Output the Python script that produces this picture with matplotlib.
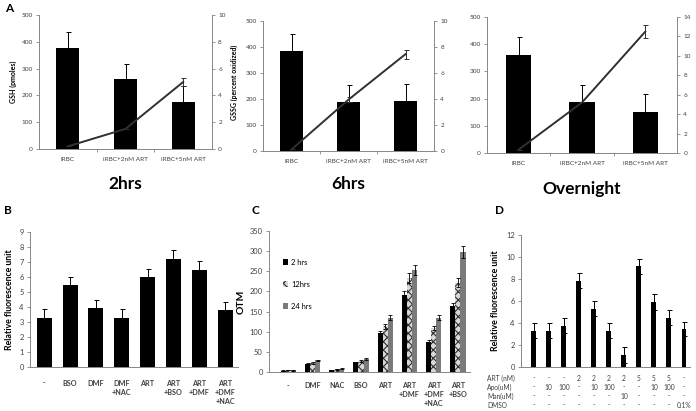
import matplotlib
matplotlib.use("Agg")
import matplotlib.pyplot as plt
import numpy as np

plt.rcParams['font.family'] = ['Lato', 'DejaVu Sans']
plt.rcParams['hatch.linewidth'] = 0.8

W, H = 696, 411

# ---- panel A data ----
a_cats = ['iRBC', 'iRBC+2nM ART', 'iRBC+5nM ART']
a_titles = ['2hrs', '6hrs', 'Overnight']
a_gsh = [[375, 260, 175], [385, 187, 194], [362, 186, 150]]
a_gsh_err = [[60, 58, 60], [66, 68, 65], [63, 65, 67]]
a_gssg = [[0.2, 1.5, 5.0], [0.12, 3.95, 7.45], [0.35, 5.2, 12.5]]
a_gssg_err = [[0, 0, 0.3], [0, 0.2, 0.35], [0, 0, 0.65]]
a_right_max = [10, 10, 14]

# ---- panel B data ----
b_cats = ['-', 'BSO', 'DMF', 'DMF\n+NAC', 'ART', 'ART\n+BSO', 'ART\n+DMF', 'ART\n+DMF\n+NAC']
b_vals = [3.25, 5.45, 3.95, 3.3, 6.0, 7.2, 6.5, 3.8]
b_err = [0.6, 0.55, 0.5, 0.6, 0.55, 0.6, 0.55, 0.55]

# ---- panel C data ----
c_cats = ['-', 'DMF', 'NAC', 'BSO', 'ART', 'ART\n+DMF', 'ART\n+DMF\n+NAC', 'ART\n+BSO']
c_series = ['2 hrs', '12hrs', '24 hrs']
c_2h = [3, 20, 4, 24, 97, 192, 75, 163]
c_12h = [5, 23, 7, 27, 113, 233, 110, 222]
c_24h = [4, 29, 8, 33, 135, 253, 135, 297]
c_2h_err = [1, 2, 1, 2, 6, 10, 4, 8]
c_12h_err = [1, 2, 1, 2, 7, 12, 5, 12]
c_24h_err = [1, 2, 1, 2, 7, 12, 7, 15]

# ---- panel D data ----
d_vals = [3.3, 3.3, 3.75, 7.85, 5.3, 3.3, 1.1, 9.15, 5.9, 4.5, 3.45]
d_err = [0.7, 0.7, 0.7, 0.7, 0.7, 0.7, 0.7, 0.7, 0.7, 0.7, 0.65]
d_rows = ['ART (nM)', 'Apo(uM)', 'Man(uM)', 'DMSO']
d_art = ['-', '-', '-', '2', '2', '2', '2', '5', '5', '5', '-']
d_apo = ['-', '10', '100', '-', '10', '100', '-', '-', '10', '100', '-']
d_man = ['-', '-', '-', '-', '-', '-', '10', '-', '-', '-', '-']
d_dmso = ['-', '-', '-', '-', '-', '-', '-', '-', '-', '-', '0.1%']

AX = '#868686'
TX = '#404040'

fig = plt.figure(figsize=(W / 100, H / 100), dpi=100)


def px_axes(l, t, r, b):
    return fig.add_axes([l / W, 1 - b / H, (r - l) / W, (b - t) / H])


def excel_style(ax, fs=4.2):
    for s in ['top', 'right']:
        ax.spines[s].set_visible(False)
    for s in ['left', 'bottom']:
        ax.spines[s].set_color(AX)
        ax.spines[s].set_linewidth(0.7)
    ax.tick_params(axis='y', colors=AX, labelcolor=TX, labelsize=fs,
                   length=2.5, width=0.6, pad=2)
    ax.tick_params(axis='x', length=0, labelsize=fs, labelcolor=TX)


# ---- A ----
a_boxes = [(39, 15, 212, 149), (263, 21, 434, 151), (487, 17, 677, 153)]
for i, box in enumerate(a_boxes):
    ax = px_axes(*box)
    x = np.arange(len(a_cats))
    ax.bar(x, a_gsh[i], width=0.4, color='black', zorder=2)
    ax.errorbar(x, a_gsh[i], yerr=[np.zeros(3), a_gsh_err[i]], fmt='none',
                ecolor='black', elinewidth=0.7, capsize=1.8, capthick=0.7, zorder=3)
    ax.set_xlim(-0.5, 2.5)
    ax.set_ylim(0, 500)
    ax.set_yticks(range(0, 501, 100))
    ax.set_xticks(x)
    ax.set_xticklabels(a_cats)
    excel_style(ax, 4.6)
    ax.tick_params(axis='x', pad=6)
    ax.set_xticks([0.5, 1.5], minor=True)
    ax.tick_params(axis='x', which='minor', length=2.5, width=0.6, color=AX)
    ax.set_title(a_titles[i], y=-0.36, fontsize=12.5, fontweight='bold')

    ax2 = ax.twinx()
    ax2.plot(x, a_gssg[i], color='#303030', lw=1.4, zorder=4)
    ax2.errorbar(x, a_gssg[i], yerr=a_gssg_err[i], fmt='none', ecolor='#303030',
                 elinewidth=0.7, capsize=1.8, capthick=0.7)
    ax2.set_ylim(0, a_right_max[i])
    ax2.set_yticks(range(0, a_right_max[i] + 1, 2))
    for s in ['top', 'left', 'bottom']:
        ax2.spines[s].set_visible(False)
    ax2.spines['right'].set_color(AX)
    ax2.spines['right'].set_linewidth(0.7)
    ax2.tick_params(axis='y', colors=AX, labelcolor=TX, labelsize=4.6,
                    length=2.5, width=0.6, pad=2)
    if i == 0:
        ax.set_ylabel('GSH (pmoles)', fontsize=5, fontweight='bold', labelpad=3)
        ax2.set_ylabel('GSSG (percent oxidized)', fontsize=5, fontweight='bold',
                       labelpad=4)

fig.text(5 / W, 1 - 9 / H, 'A', fontsize=8.5, fontweight='bold', va='center')

# ---- B ----
axb = px_axes(30, 232, 238, 367)
xb = np.arange(len(b_cats))
axb.bar(xb, b_vals, width=0.58, color='black', zorder=2)
axb.errorbar(xb, b_vals, yerr=b_err, fmt='none', ecolor='black',
             elinewidth=0.7, capsize=1.8, capthick=0.7, zorder=3)
axb.set_xlim(-0.55, 7.5)
axb.set_ylim(0, 9)
axb.set_yticks(range(0, 10))
axb.set_xticks(xb)
axb.set_xticklabels(b_cats, fontweight='bold', linespacing=1.35, va='top')
excel_style(axb, 5.4)
axb.tick_params(axis='x', labelsize=5.2, pad=9)
axb.set_ylabel('Relative fluorescence unit', fontsize=6.3, fontweight='bold', labelpad=4)
fig.text(4 / W, 1 - 210 / H, 'B', fontsize=8.5, fontweight='bold', va='center')

# ---- C ----
axc = px_axes(269, 231, 470, 372)
xc = np.arange(len(c_cats))
bw = 0.21
ekw = dict(fmt='none', ecolor='black', elinewidth=0.6, capsize=1.3, capthick=0.6, zorder=3)
h1 = axc.bar(xc - bw, c_2h, width=bw, color='black', zorder=2)
h2 = axc.bar(xc, c_12h, width=bw, facecolor='#d8d8d8', edgecolor='#303030',
             hatch='xxxx', linewidth=0, zorder=2)
h3 = axc.bar(xc + bw, c_24h, width=bw, color='#7a7a7a', zorder=2)
axc.errorbar(xc - bw, c_2h, yerr=c_2h_err, **ekw)
axc.errorbar(xc, c_12h, yerr=c_12h_err, **ekw)
axc.errorbar(xc + bw, c_24h, yerr=c_24h_err, **ekw)
axc.set_xlim(-0.8, 7.5)
axc.set_ylim(0, 350)
axc.set_yticks(range(0, 351, 50))
axc.set_xticks(xc)
axc.set_xticklabels(c_cats, fontweight='bold', linespacing=1.35, va='top')
excel_style(axc, 5.4)
axc.tick_params(axis='x', labelsize=5.2, pad=7)
axc.set_ylabel('OTM', fontsize=7.5, fontweight='bold', labelpad=3)
axc.legend([h1, h2, h3], c_series, loc='upper left', bbox_to_anchor=(0.05, 0.83),
           frameon=False, fontsize=5.4, handlelength=0.7, handleheight=0.7,
           handletextpad=0.4, labelspacing=2.0, borderpad=0)
fig.text(251 / W, 1 - 210 / H, 'C', fontsize=8.5, fontweight='bold', va='center')

# ---- D ----
axd = px_axes(521, 235, 690, 367)
xd = np.arange(len(d_vals))
axd.bar(xd, d_vals, width=0.33, color='black', zorder=2)
axd.errorbar(xd, d_vals, yerr=d_err, fmt='none', ecolor='black',
             elinewidth=0.7, capsize=1.8, capthick=0.7, zorder=3)
axd.set_xlim(-0.85, 10.4)
axd.set_ylim(0, 12)
axd.set_yticks(range(0, 13, 2))
axd.set_xticks([])
excel_style(axd, 5.4)
axd.set_ylabel('Relative fluorescence unit', fontsize=6.3, fontweight='bold', labelpad=4)
row_y = [378, 387, 396, 405]
for r, (name, vals) in enumerate(zip(d_rows, [d_art, d_apo, d_man, d_dmso])):
    fig.text(487 / W, 1 - row_y[r] / H, name, fontsize=4.8, color=TX, va='center')
    for k, v in enumerate(vals):
        axd.annotate(v, xy=(xd[k], 0), xycoords=('data', 'axes fraction'),
                     xytext=(0, -(row_y[r] - 367)), textcoords='offset pixels',
                     ha='center', va='center', fontsize=4.8, color=TX)
fig.text(495 / W, 1 - 210 / H, 'D', fontsize=8.5, fontweight='bold', va='center')

fig.savefig('out.png', dpi=100, facecolor='white')
